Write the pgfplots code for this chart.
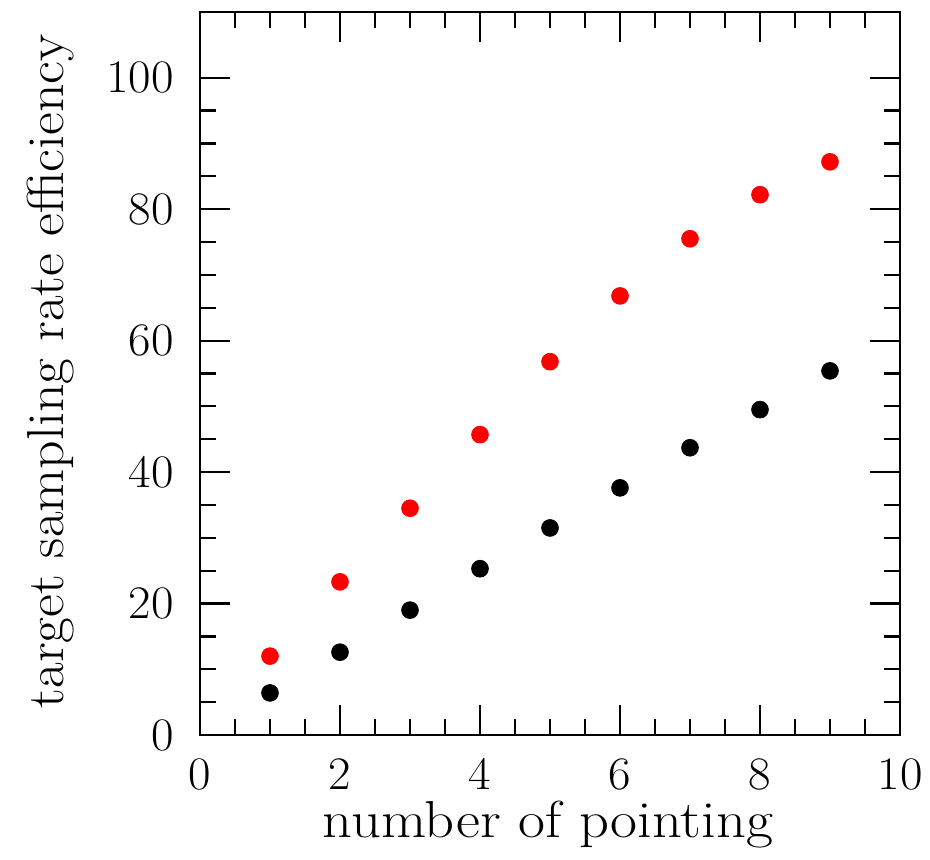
\documentclass[border=0pt]{standalone}
\usepackage{fontspec}
\usepackage{graphicx}
\usepackage{pgfplots}
\pgfplotsset{compat=1.18}
\begin{document}
\begin{tikzpicture}
\useasboundingbox (-100pt,-62.5pt) rectangle (365pt,367.5pt);
\begin{axis}[
  at={(0,0)}, anchor=south west,
  width=350pt, height=361.5pt, scale only axis,
  xmin=0, xmax=10, ymin=0, ymax=110,
  xtick={0,2,...,10}, ytick={0,20,...,100},
  minor x tick num=3, minor y tick num=3,
  tick align=inside, tick pos=both,
  major tick length=15pt, minor tick length=8pt,
  axis line style={line width=1.1pt}, every tick/.style={line width=1.1pt, black},
  /pgf/number format/assume math mode=true,
  ticklabel style={font=\fontsize{23.3}{27}\selectfont, inner sep=0pt},
  xticklabel={\scalebox{1.05}[1]{\pgfmathprintnumber{\tick}}},
  yticklabel={\scalebox{1.05}[1]{\pgfmathprintnumber{\tick}}},
  xticklabel style={anchor=center, yshift=-19.5pt},
  yticklabel style={anchor=east, xshift=-13pt},
  label style={font=\fontsize{26}{30}\selectfont, inner sep=0pt},
  xlabel={\scalebox{1.127}[1]{number of pointing}},
  ylabel={\scalebox{1.075}[1]{target sampling rate efficiency}},
  xlabel style={at={(axis description cs:0.497,0)}, anchor=base, yshift=-51.5pt},
  ylabel style={at={(axis description cs:-0.1957,0.503)}, anchor=base},
  clip=false,
]
\addplot[only marks, mark=*, mark size=4.2pt, red, mark options={draw=red, fill=red}] coordinates {
(1,12.0) (2,23.3) (3,34.5) (4,45.7) (5,56.8) (6,66.8) (7,75.5) (8,82.2) (9,87.2)
};
\addplot[only marks, mark=*, mark size=4.2pt, black, mark options={draw=black, fill=black}] coordinates {
(1,6.4) (2,12.6) (3,19.0) (4,25.3) (5,31.5) (6,37.6) (7,43.7) (8,49.5) (9,55.4)
};
\end{axis}
\end{tikzpicture}
\end{document}
